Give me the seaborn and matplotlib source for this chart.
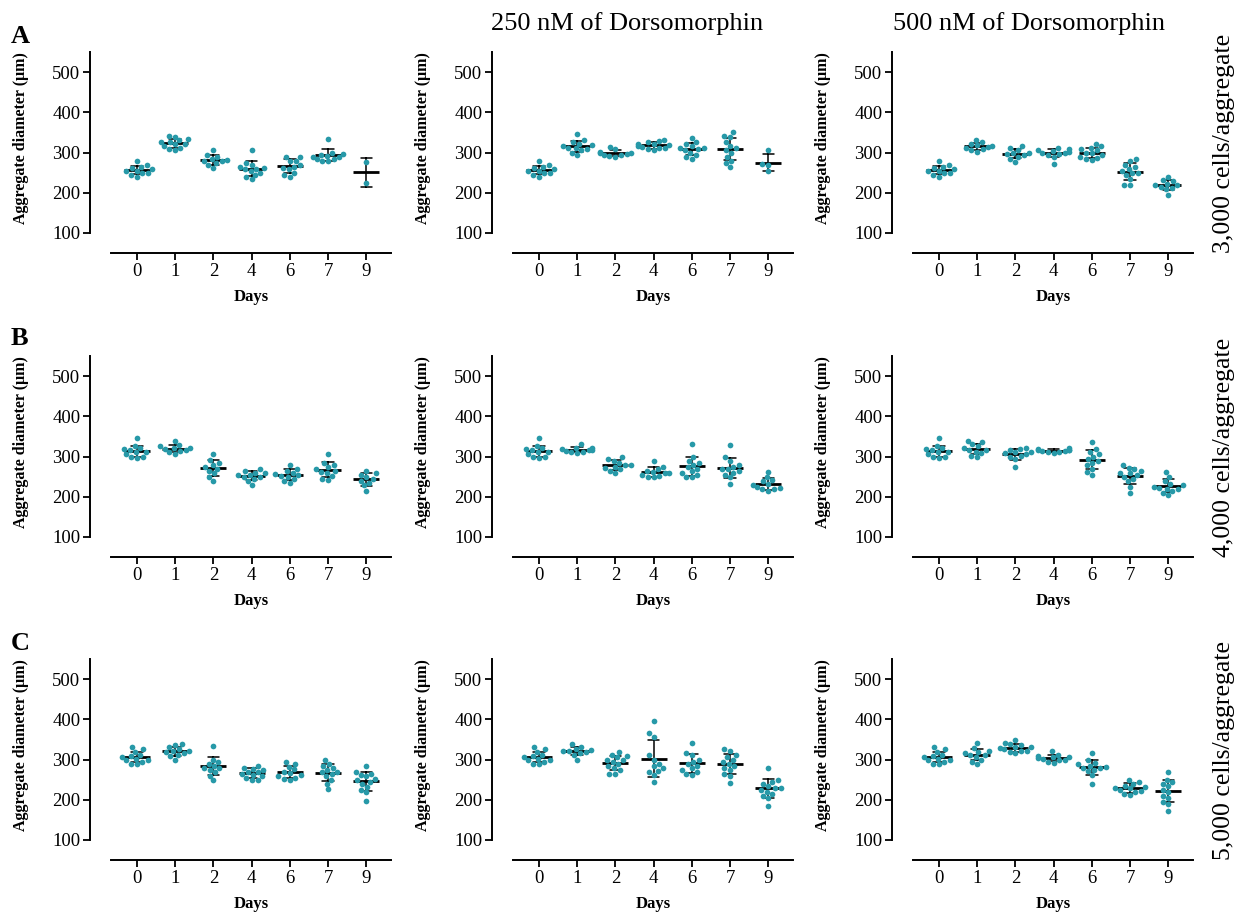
import matplotlib
matplotlib.use("Agg")
import matplotlib.pyplot as plt
import pandas as pd
import seaborn as sns

# categories / labels
DAYS = ["0", "1", "2", "4", "6", "7", "9"]
COL_TITLES = ["", "250 nM of Dorsomorphin", "500 nM of Dorsomorphin"]
ROW_LABELS = ["3,000 cells/aggregate", "4,000 cells/aggregate", "5,000 cells/aggregate"]
PANEL_LETTERS = ["A", "B", "C"]

# day 0 is the same set of aggregates for the three columns of a row
day0_3000 = [278, 268, 265, 262, 258, 255, 253, 250, 248, 245, 240]
day0_4000 = [345, 325, 320, 318, 315, 312, 310, 305, 300, 298, 296]
day0_5000 = [330, 325, 318, 312, 308, 305, 302, 300, 298, 295, 290, 288]

# aggregate diameters (um), one list per day: 0, 1, 2, 4, 6, 7, 9
cells3000_0nM = [
    day0_3000,
    [342, 338, 333, 330, 327, 325, 322, 320, 316, 312, 308, 305],
    [305, 295, 290, 285, 282, 280, 278, 275, 270, 262],
    [306, 275, 270, 265, 262, 260, 258, 255, 250, 245, 240, 233],
    [290, 288, 280, 278, 270, 265, 262, 258, 250, 245, 240],
    [333, 300, 296, 295, 292, 290, 288, 285, 283, 280, 278],
    [276, 225],
]
cells3000_250nM = [
    day0_3000,
    [345, 330, 325, 322, 318, 315, 312, 310, 308, 305, 300, 295],
    [313, 308, 302, 300, 298, 296, 295, 293, 291, 289],
    [332, 328, 325, 322, 320, 318, 316, 314, 312, 310, 308, 305],
    [335, 325, 320, 315, 312, 310, 308, 305, 300, 295, 290, 285],
    [350, 340, 338, 325, 315, 310, 305, 300, 290, 280, 275, 265],
    [305, 272, 270, 253],
]
cells3000_500nM = [
    day0_3000,
    [332, 325, 322, 318, 315, 313, 311, 308, 305, 302],
    [315, 310, 305, 300, 298, 296, 294, 290, 285, 277],
    [310, 308, 306, 304, 302, 300, 298, 296, 294, 290, 272],
    [320, 315, 312, 308, 305, 300, 298, 295, 290, 287, 285, 282],
    [283, 280, 270, 265, 260, 255, 250, 248, 245, 235, 220, 218],
    [240, 232, 228, 222, 220, 218, 215, 212, 208, 195],
]
cells4000_0nM = [
    day0_4000,
    [338, 328, 325, 322, 320, 318, 316, 314, 310, 306],
    [307, 292, 285, 280, 275, 270, 265, 258, 250, 240],
    [268, 263, 260, 258, 255, 253, 250, 248, 245, 240, 228],
    [278, 270, 265, 260, 257, 255, 252, 250, 245, 240, 235],
    [305, 285, 280, 275, 270, 265, 262, 258, 252, 245, 242],
    [265, 258, 255, 250, 245, 240, 235, 228, 215],
]
cells4000_250nM = [
    day0_4000,
    [330, 322, 320, 318, 316, 315, 314, 312, 310, 308],
    [298, 295, 290, 285, 280, 278, 275, 272, 268, 263, 260],
    [290, 275, 270, 265, 262, 260, 258, 255, 252, 250, 248],
    [332, 300, 290, 285, 280, 275, 270, 265, 260, 255, 250, 248],
    [328, 298, 290, 280, 275, 270, 268, 265, 260, 255, 248, 232],
    [262, 248, 242, 238, 232, 228, 225, 222, 220, 218, 215],
]
cells4000_500nM = [
    day0_4000,
    [338, 335, 330, 325, 320, 317, 315, 312, 308, 302, 298],
    [322, 318, 315, 312, 310, 308, 305, 302, 300, 295, 273],
    [320, 318, 317, 316, 315, 314, 313, 312, 310, 308],
    [335, 318, 312, 305, 300, 295, 290, 285, 278, 270, 262, 255],
    [278, 272, 268, 265, 260, 258, 255, 250, 245, 238, 225, 208],
    [262, 250, 240, 232, 228, 225, 222, 220, 218, 215, 210, 205],
]
cells5000_0nM = [
    day0_5000,
    [338, 335, 330, 326, 322, 320, 318, 315, 312, 308, 300],
    [333, 300, 295, 290, 285, 280, 278, 275, 268, 260, 248],
    [285, 280, 277, 274, 270, 268, 265, 262, 258, 255, 250, 248],
    [295, 290, 282, 276, 270, 266, 262, 258, 255, 252, 250],
    [300, 290, 285, 280, 275, 270, 268, 265, 258, 250, 240, 226],
    [285, 270, 265, 262, 258, 252, 248, 245, 240, 232, 225, 218, 198],
]
cells5000_250nM = [
    day0_5000,
    [338, 330, 326, 324, 322, 320, 318, 316, 312, 300],
    [318, 312, 308, 305, 300, 298, 295, 290, 285, 280, 275, 265, 265],
    [397, 365, 355, 310, 300, 290, 285, 278, 272, 270, 262, 245],
    [342, 315, 310, 300, 295, 290, 285, 280, 275, 270, 265, 262],
    [325, 320, 312, 305, 300, 295, 290, 285, 280, 275, 265, 260, 242],
    [280, 248, 245, 240, 235, 230, 228, 225, 220, 215, 210, 205, 185],
]
cells5000_500nM = [
    day0_5000,
    [340, 328, 322, 318, 315, 312, 310, 305, 300, 295, 290],
    [348, 340, 338, 335, 332, 330, 328, 325, 322, 320, 318, 315],
    [320, 312, 308, 306, 305, 304, 302, 300, 298, 295, 292],
    [315, 298, 292, 288, 285, 282, 280, 278, 275, 272, 262, 240],
    [250, 245, 240, 235, 232, 230, 228, 225, 222, 220, 215, 212],
    [268, 250, 245, 240, 235, 225, 220, 210, 205, 195, 190, 172],
]

GRID = [
    [cells3000_0nM, cells3000_250nM, cells3000_500nM],
    [cells4000_0nM, cells4000_250nM, cells4000_500nM],
    [cells5000_0nM, cells5000_250nM, cells5000_500nM],
]

TEAL = "#2799a8"


def panel_frame(groups):
    rows = []
    for day, values in zip(DAYS, groups):
        rows += [(day, v) for v in values]
    return pd.DataFrame(rows, columns=["day", "diameter"])


sns.set_theme(style="ticks")
plt.rcParams["font.family"] = ["Liberation Serif", "DejaVu Serif"]
plt.rcParams.update({"text.color": "black", "axes.labelcolor": "black",
                     "xtick.color": "black", "ytick.color": "black"})

W, H = 1247, 915
fig = plt.figure(figsize=(W / 100, H / 100), dpi=100)

col_left = [90, 492, 892]
row_top = [52, 356, 659]
row_bottom = [253, 557, 860]
ax_w = 303

for r, row_panels in enumerate(GRID):
    for c, groups in enumerate(row_panels):
        ax = fig.add_axes([col_left[c] / W, 1 - row_bottom[r] / H,
                           ax_w / W, (row_bottom[r] - row_top[r]) / H])
        df = panel_frame(groups)
        sns.swarmplot(data=df, x="day", y="diameter", order=DAYS, color=TEAL,
                      size=4.1, linewidth=0, ax=ax)
        sns.pointplot(data=df, x="day", y="diameter", order=DAYS,
                      estimator="mean", errorbar="sd", color="black",
                      capsize=0.3, linestyle="none", marker="_",
                      markersize=19, markeredgewidth=2.0,
                      err_kws={"linewidth": 1.1}, ax=ax)

        ax.set_ylim(50, 550)
        ax.set_xlim(-1.23, 6.7)
        ax.set_yticks([100, 200, 300, 400, 500])
        sns.despine(ax=ax)
        ax.spines["left"].set_bounds(100, 550)
        ax.spines["bottom"].set_bounds(-0.68, 6.66)
        for side in ["left", "bottom"]:
            ax.spines[side].set_linewidth(1.4)
            ax.spines[side].set_color("black")
        ax.tick_params(axis="both", direction="out", length=5, width=1.3,
                       labelsize=13.5, colors="black", pad=2)

        ax.set_ylabel("Aggregate diameter (μm)", fontsize=11.5, fontweight="bold")
        ax.yaxis.set_label_coords(-0.2, 0.57)
        ax.set_xlabel("Days", fontsize=12, fontweight="bold")
        ax.xaxis.set_label_coords(0.533, -0.18)

# column titles
fig.text(627 / W, 1 - 30 / H, COL_TITLES[1], ha="center", va="baseline", fontsize=19)
fig.text(1029 / W, 1 - 30 / H, COL_TITLES[2], ha="center", va="baseline", fontsize=19)

# row labels on the right
for y_c, label in zip([143, 447, 750], ROW_LABELS):
    fig.text(1224 / W, 1 - y_c / H, label, rotation=90, ha="center", va="center",
             fontsize=18.5)

# panel letters
for y_b, letter in zip([43, 345, 650], PANEL_LETTERS):
    fig.text(11 / W, 1 - y_b / H, letter, ha="left", va="baseline",
             fontsize=19, fontweight="bold")

fig.savefig("out.png", dpi=100, facecolor="white")
